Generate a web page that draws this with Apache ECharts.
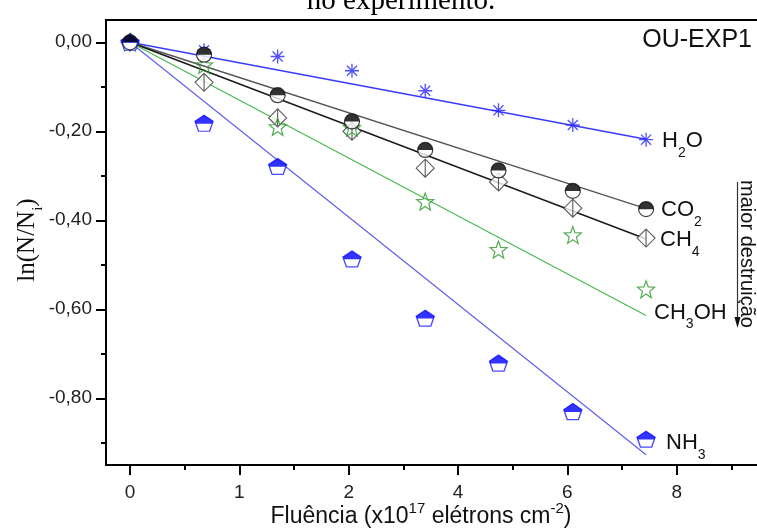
<!DOCTYPE html>
<html><head><meta charset="utf-8">
<script src="https://cdn.jsdelivr.net/npm/echarts@6/dist/echarts.min.js"></script>
<style>html,body{margin:0;padding:0;background:#fff}#c{width:757px;height:530px}</style>
</head><body><div id="c"></div>
<script>
// ---- data ----
const xTickValues = [0, 1, 2, 3, 4, 5];
const xTickLabels = ['0', '1', '2', '4', '6', '8'];
const xMinorTicks = [0.5, 1.5, 2.5, 3.5, 4.5, 5.5];
const yTickValues = [0, -0.2, -0.4, -0.6, -0.8];
const yMinorTicks = [-0.1, -0.3, -0.5, -0.7, -0.9];
const fluence = [0, 0.677, 1.35, 2.03, 2.70, 3.37, 4.05, 4.72];
const h2o   = [0, -0.018, -0.032, -0.064, -0.109, -0.153, -0.186, -0.219];
const co2   = [0, -0.028, -0.119, -0.178, -0.242, -0.288, -0.334, -0.375];
const ch4   = [0, -0.090, -0.170, -0.200, -0.283, -0.314, -0.373, -0.440];
const ch3oh = [0, -0.051, -0.190, -0.192, -0.358, -0.466, -0.433, -0.555];
const nh3   = [0, -0.182, -0.279, -0.487, -0.620, -0.721, -0.830, -0.892];
const fitX     = [0, 4.72];
const h2oFit   = [0, -0.218];
const co2Fit   = [0, -0.374];
const ch4Fit   = [0, -0.442];
const ch3ohFit = [0, -0.614];
const nh3Fit   = [0, -0.927];

// ---- helpers ----
const pts = ys => fluence.map((x, i) => [x, ys[i]]);
const fit = ys => fitX.map((x, i) => [x, ys[i]]);
function polyPath(n, rOut, rIn) {
  let s = 'path://';
  const k = rIn ? 2 * n : n;
  for (let i = 0; i < k; i++) {
    const r = rIn ? (i % 2 ? rIn : rOut) : rOut;
    const a = -Math.PI / 2 + i * Math.PI * 2 / k;
    s += (i ? 'L' : 'M') + (r * Math.cos(a)).toFixed(4) + ',' + (r * Math.sin(a)).toFixed(4);
  }
  return s + 'Z';
}
const SANS = 'Liberation Sans';
const starSym = polyPath(5, 1, 0.42);
const pentSym = polyPath(5, 1);
const pentTop = 'path://M0,-1L0.951,-0.309L0.866,-0.05L-0.866,-0.05L-0.951,-0.309Z';
const astSym = 'path://M0,-1L0,1M-1,0L1,0M-0.72,-0.72L0.72,0.72M-0.72,0.72L0.72,-0.72';
const diaSym = 'path://M0,-1L1,0L0,1L-1,0ZM0,-1L0,1';
const halfTop = 'path://M-1,0A1,1 0 0 1 1,0Z';

function lbl(rich, off) {
  return {
    show: true, distance: 0, offset: off, formatter: rich,
    rich: {
      m: { fontSize: 22, fontFamily: SANS, color: '#111' },
      s: { fontSize: 14, fontFamily: SANS, color: '#111', padding: [24, 0, 0, 0] }
    }
  };
}
function fitSeries(name, ys, color, width, label, off) {
  return { type: 'line', name, data: fit(ys), symbol: 'none', silent: true,
    lineStyle: { color, width }, z: 2, endLabel: lbl(label, off) };
}
function scat(name, ys, symbol, size, style, extra) {
  return Object.assign({ type: 'scatter', name, data: pts(ys), symbol, symbolSize: size,
    itemStyle: style, z: 5, silent: true }, extra || {});
}

const chart = echarts.init(document.getElementById('c'), null, { renderer: 'canvas' });
const option = {
  animation: false,
  backgroundColor: '#fff',
  grid: { left: 106, top: 20, width: 680, height: 445, outerBoundsMode: 'none', containLabel: false,
    show: true, borderColor: '#000', borderWidth: 2, backgroundColor: 'transparent' },
  xAxis: [
    { type: 'value', min: -0.22, max: 6.0, position: 'bottom',
      axisLine: { show: true, onZero: false, lineStyle: { color: '#000', width: 2 } },
      axisTick: { show: true, customValues: xTickValues, length: 10, lineStyle: { color: '#000', width: 2 } },
      axisLabel: { show: true, customValues: xTickValues, margin: 18, fontSize: 19, fontFamily: SANS, color: '#222',
        formatter: v => xTickLabels[xTickValues.indexOf(Math.round(v))] },
      splitLine: { show: false } },
    { type: 'value', min: -0.22, max: 6.0, position: 'bottom',
      axisLine: { show: false, onZero: false },
      axisTick: { show: true, customValues: xMinorTicks, length: 5, lineStyle: { color: '#000', width: 2 } },
      axisLabel: { show: false }, splitLine: { show: false } }
  ],
  yAxis: [
    { type: 'value', min: -0.95, max: 0.05, position: 'left',
      axisLine: { show: true, onZero: false, lineStyle: { color: '#000', width: 2 } },
      axisTick: { show: true, customValues: yTickValues, length: 10, lineStyle: { color: '#000', width: 2 } },
      axisLabel: { show: true, customValues: yTickValues, margin: 14, fontSize: 19, fontFamily: SANS, color: '#222',
        formatter: v => Math.abs(v) < 1e-9 ? '0,00' : v.toFixed(2).replace('.', ',') },
      splitLine: { show: false } },
    { type: 'value', min: -0.95, max: 0.05, position: 'left',
      axisLine: { show: false, onZero: false },
      axisTick: { show: true, customValues: yMinorTicks, length: 5, lineStyle: { color: '#000', width: 2 } },
      axisLabel: { show: false }, splitLine: { show: false } }
  ],
  series: [
    fitSeries('H2O fit', h2oFit, '#3b3bfb', 1.5, '{m|H}{s|2}{m|O}', [16, 2]),
    fitSeries('CO2 fit', co2Fit, '#555555', 1.4, '{m|CO}{s|2}', [15, 1]),
    fitSeries('CH4 fit', ch4Fit, '#1a1a1a', 1.5, '{m|CH}{s|4}', [14, 1]),
    fitSeries('CH3OH fit', ch3ohFit, '#45b84b', 1.1, '{m|CH}{s|3}{m|OH}', [8, -3]),
    fitSeries('NH3 fit', nh3Fit, '#5c5cf0', 1.1, '{m|NH}{s|3}', [20, -12]),
    scat('H2O', h2o, astSym, 14, { color: 'none', borderColor: '#2424ff', borderWidth: 1.3 }),
    scat('CH4', ch4, diaSym, 18, { color: '#fff', borderColor: '#333', borderWidth: 1.1 }),
    scat('CH3OH', ch3oh, starSym, 17, { color: 'rgba(255,255,255,0)', borderColor: '#2a962a', borderWidth: 1.2 }),
    scat('NH3', nh3, pentSym, [18, 16], { color: '#fff', borderColor: '#1a1aff', borderWidth: 1.3 }),
    scat('NH3 top', nh3, pentTop, [18, 8.4], { color: '#0000ff', borderWidth: 0 }, { symbolOffset: [0, -3.8], z: 6 }),
    scat('CO2', co2, 'circle', 15, { color: '#fff', borderColor: '#111', borderWidth: 1.2 }),
    scat('CO2 top', co2, halfTop, [15, 7.5], { color: '#000', borderWidth: 0 }, { symbolOffset: [0, -3.75], z: 6 })
  ],
  graphic: [
    { type: 'text', x: 401, y: 16, silent: true,
      style: { text: 'no experimento.', font: '29px "Liberation Serif"', fill: '#000', align: 'center', verticalAlign: 'bottom' } },
    { type: 'text', x: 752, y: 40, silent: true,
      style: { text: 'OU-EXP1', font: '25px "Liberation Sans"', fill: '#111', align: 'right', verticalAlign: 'middle' } },
    { type: 'text', x: 747, y: 254, rotation: -Math.PI / 2, silent: true,
      style: { text: 'maior destruição', font: '20px "Liberation Sans"', fill: '#111', align: 'center', verticalAlign: 'middle' } },
    { type: 'line', silent: true, shape: { x1: 737.5, y1: 182, x2: 737.5, y2: 320 }, style: { stroke: '#333', lineWidth: 1.2 } },
    { type: 'polygon', silent: true, shape: { points: [[734.5, 317], [740.5, 317], [737.5, 328]] }, style: { fill: '#111' } },
    { type: 'text', x: 27, y: 240, rotation: Math.PI / 2, silent: true,
      style: { text: 'ln(N/N{s|i})', font: '25px "Liberation Serif"', fill: '#111', align: 'center', verticalAlign: 'middle',
        rich: { s: { font: '15px "Liberation Serif"', fill: '#111', padding: [22, 0, 0, 0] } } } },
    { type: 'text', x: 421, y: 517, silent: true,
      style: { text: 'Fluência (x10{p|17} elétrons cm{p|-2})', font: '23px "Liberation Sans"', fill: '#111', align: 'center', verticalAlign: 'middle',
        rich: { p: { font: '15px "Liberation Sans"', fill: '#111', padding: [0, 0, 16, 0] } } } }
  ]
};
chart.setOption(option);
</script></body></html>
